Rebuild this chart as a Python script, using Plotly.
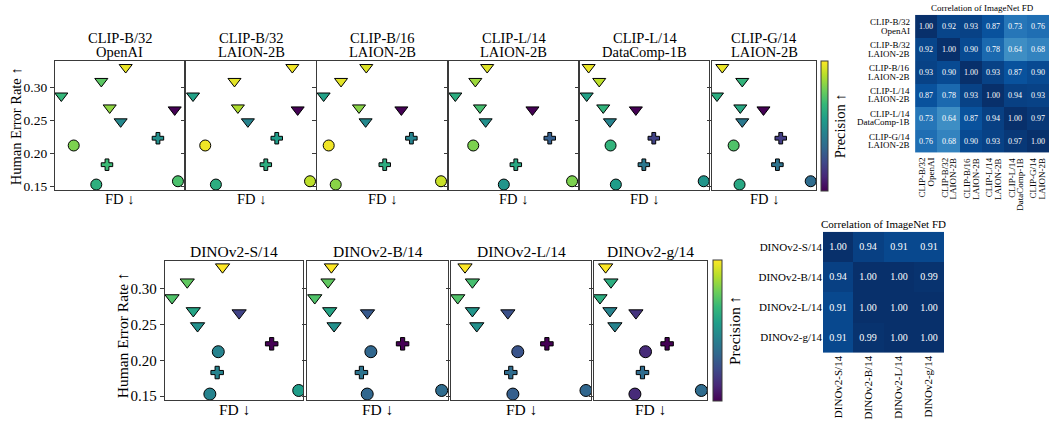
import plotly.graph_objects as go

W, H = 1050, 423
FONT = "Liberation Serif"

# ---------------- data ----------------
TOP_ENCODERS = [("CLIP-B/32", "OpenAI"), ("CLIP-B/32", "LAION-2B"), ("CLIP-B/16", "LAION-2B"),
                ("CLIP-L/14", "LAION-2B"), ("CLIP-L/14", "DataComp-1B"), ("CLIP-G/14", "LAION-2B")]
BOTTOM_ENCODERS = ["DINOv2-S/14", "DINOv2-B/14", "DINOv2-L/14", "DINOv2-g/14"]

# one entry per generative model (same order in every list)
MARKERS = ["triangle-down"] * 6 + ["cross"] * 2 + ["circle"] * 3
HUMAN_ERROR = [0.330, 0.309, 0.287, 0.269, 0.248, 0.266, 0.223, 0.183, 0.212, 0.153, 0.158]

# FD (relative units, per encoder; axis ticks hidden in the original)
FD_CLIP_B32_OPENAI = [54.8, 35.9, 4.9, 42.4, 50.9, 92.8, 79.8, 40.3, 14.5, 32.0, 95.3]
FD_CLIP_B32_LAION = [81.8, 37.3, 5.4, 39.9, 47.6, 85.9, 69.8, 61.4, 14.8, 23.0, 95.4]
FD_CLIP_B16_LAION = [37.9, 18.5, 5.1, 32.3, 37.4, 64.9, 72.6, 52.1, 9.0, 14.4, 95.4]
FD_CLIP_L14_LAION = [29.6, 20.4, 4.9, 24.0, 28.4, 64.7, 78.1, 51.8, 18.8, 42.5, 95.4]
FD_CLIP_L14_DATACOMP = [6.7, 14.9, 5.2, 18.0, 23.2, 43.3, 57.2, 49.5, 23.7, 27.8, 95.9]
FD_CLIP_G14_LAION = [9.9, 29.1, 4.8, 27.2, 29.1, 49.5, 66.1, 62.9, 20.8, 26.5, 94.9]
FD_DINO_S = [41.7, 16.1, 5.1, 20.5, 23.6, 53.7, 77.3, 37.8, 38.6, 32.5, 96.9]
FD_DINO_B = [17.3, 14.9, 5.5, 16.1, 19.2, 42.9, 67.8, 38.6, 45.3, 42.7, 95.5]
FD_DINO_L = [10.0, 15.3, 4.8, 15.3, 18.4, 40.6, 68.5, 42.7, 47.7, 44.2, 96.4]
FD_DINO_G = [10.3, 15.0, 5.3, 14.1, 18.5, 37.1, 64.7, 42.9, 45.6, 36.2, 95.0]

# precision (normalised per encoder, colour scale)
PREC_CLIP_B32_OPENAI = [0.97, 0.74, 0.66, 0.83, 0.47, 0.00, 0.50, 0.68, 0.80, 0.63, 0.71]
PREC_CLIP_B32_LAION = [0.98, 0.96, 0.57, 0.88, 0.45, 0.00, 0.55, 0.62, 0.98, 0.62, 0.90]
PREC_CLIP_B16_LAION = [0.95, 0.96, 0.57, 0.82, 0.47, 0.00, 0.45, 0.62, 0.98, 0.82, 0.92]
PREC_CLIP_L14_LAION = [0.95, 0.85, 0.62, 0.70, 0.50, 0.00, 0.30, 0.60, 0.80, 0.52, 0.80]
PREC_CLIP_L14_DATACOMP = [0.97, 0.90, 0.57, 0.65, 0.45, 0.00, 0.20, 0.40, 0.65, 0.55, 0.52]
PREC_CLIP_G14_LAION = [0.97, 0.65, 0.62, 0.60, 0.40, 0.00, 0.18, 0.38, 0.72, 0.60, 0.35]
PREC_DINO_S = [1.00, 0.75, 0.72, 0.58, 0.50, 0.20, 0.00, 0.45, 0.45, 0.45, 0.55]
PREC_DINO_B = [1.00, 0.75, 0.72, 0.58, 0.50, 0.28, 0.00, 0.38, 0.33, 0.33, 0.35]
PREC_DINO_L = [1.00, 0.70, 0.72, 0.52, 0.50, 0.25, 0.00, 0.35, 0.26, 0.30, 0.33]
PREC_DINO_G = [1.00, 0.62, 0.62, 0.45, 0.45, 0.15, 0.00, 0.35, 0.12, 0.12, 0.35]

TOP_FD = [FD_CLIP_B32_OPENAI, FD_CLIP_B32_LAION, FD_CLIP_B16_LAION, FD_CLIP_L14_LAION, FD_CLIP_L14_DATACOMP, FD_CLIP_G14_LAION]
TOP_PREC = [PREC_CLIP_B32_OPENAI, PREC_CLIP_B32_LAION, PREC_CLIP_B16_LAION, PREC_CLIP_L14_LAION, PREC_CLIP_L14_DATACOMP, PREC_CLIP_G14_LAION]
BOT_FD = [FD_DINO_S, FD_DINO_B, FD_DINO_L, FD_DINO_G]
BOT_PREC = [PREC_DINO_S, PREC_DINO_B, PREC_DINO_L, PREC_DINO_G]

Y_TICKS = [0.15, 0.20, 0.25, 0.30]
Y_TICK_LABELS = ["0.15", "0.20", "0.25", "0.30"]

CLIP_LABEL_LINES = [("CLIP-B/32", "OpenAI"), ("CLIP-B/32", "LAION-2B"), ("CLIP-B/16", "LAION-2B"),
                    ("CLIP-L/14", "LAION-2B"), ("CLIP-L/14", "DataComp-1B"), ("CLIP-G/14", "LAION-2B")]
CLIP_CORR = [[1.00, 0.92, 0.93, 0.87, 0.73, 0.76],
             [0.92, 1.00, 0.90, 0.78, 0.64, 0.68],
             [0.93, 0.90, 1.00, 0.93, 0.87, 0.90],
             [0.87, 0.78, 0.93, 1.00, 0.94, 0.93],
             [0.73, 0.64, 0.87, 0.94, 1.00, 0.97],
             [0.76, 0.68, 0.90, 0.93, 0.97, 1.00]]
DINO_LABELS = ["DINOv2-S/14", "DINOv2-B/14", "DINOv2-L/14", "DINOv2-g/14"]
DINO_CORR = [[1.00, 0.94, 0.91, 0.91],
             [0.94, 1.00, 1.00, 0.99],
             [0.91, 1.00, 1.00, 1.00],
             [0.91, 0.99, 1.00, 1.00]]

# ---------------- layout helpers ----------------
def px(x):
    return x / W


def py(y):
    return 1 - y / H


TOP_X = [(55, 184), (186, 316), (317, 447), (449, 578), (580, 709), (712, 816)]
TOP_Y = (62, 192)
BOT_X = [(165, 303), (307, 448), (451, 591), (594, 707)]
BOT_Y = (263, 404)

fig = go.Figure()
layout = dict(width=W, height=H, margin=dict(l=0, r=0, t=0, b=0),
              paper_bgcolor="white", plot_bgcolor="white",
              font=dict(family=FONT, color="black"), showlegend=False)
annotations = []
SPINE = "#3a3a3a"
idx = 0


def add_panel(fd, prec, xr, yr, caxis, msize, tickfont, show_labels):
    global idx
    idx += 1
    xa = "x" if idx == 1 else f"x{idx}"
    ya = "y" if idx == 1 else f"y{idx}"
    for m in ["triangle-down", "cross", "circle"]:
        sel = [i for i, mk in enumerate(MARKERS) if mk == m]
        size = msize * (0.87 if m == "cross" else (1.03 if m == "triangle-down" else 1.0))
        fig.add_trace(go.Scatter(
            x=[fd[i] for i in sel], y=[HUMAN_ERROR[i] for i in sel], mode="markers",
            xaxis=xa, yaxis=ya,
            marker=dict(symbol=m, size=size, color=[prec[i] for i in sel], coloraxis=caxis,
                        line=dict(color="black", width=1)),
            hoverinfo="skip"))
    key = "" if idx == 1 else str(idx)
    layout["xaxis" + key] = dict(domain=[px(xr[0]), px(xr[1])], range=[0, 100], anchor=ya,
                                 showticklabels=False, ticks="", showgrid=False, zeroline=False,
                                 showline=True, mirror=True, linecolor=SPINE, linewidth=1.3)
    layout["yaxis" + key] = dict(domain=[py(yr[1]), py(yr[0])], range=[0.1445, 0.339], anchor=xa,
                                 tickvals=Y_TICKS, ticktext=Y_TICK_LABELS, showticklabels=show_labels,
                                 ticks="outside", ticklen=4, tickcolor=SPINE, tickwidth=1,
                                 tickfont=dict(size=tickfont, family=FONT),
                                 showgrid=False, zeroline=False,
                                 showline=True, mirror=True, linecolor=SPINE, linewidth=1.3)


for k, (fd, prec) in enumerate(zip(TOP_FD, TOP_PREC)):
    add_panel(fd, prec, TOP_X[k], TOP_Y, "coloraxis", 11, 13.5, k == 0)
    cx = (TOP_X[k][0] + TOP_X[k][1]) / 2
    annotations.append(dict(x=px(cx), y=py(38), xref="paper", yref="paper", text=TOP_ENCODERS[k][0],
                            showarrow=False, xanchor="center", yanchor="middle", font=dict(size=14.5)))
    annotations.append(dict(x=px(cx), y=py(53), xref="paper", yref="paper", text=TOP_ENCODERS[k][1],
                            showarrow=False, xanchor="center", yanchor="middle", font=dict(size=14.5)))
    annotations.append(dict(x=px(cx), y=py(201), xref="paper", yref="paper", text="FD ↓",
                            showarrow=False, xanchor="center", yanchor="middle", font=dict(size=14.5)))

for k, (fd, prec) in enumerate(zip(BOT_FD, BOT_PREC)):
    add_panel(fd, prec, BOT_X[k], BOT_Y, "coloraxis2", 12, 15, k == 0)
    cx = (BOT_X[k][0] + BOT_X[k][1]) / 2
    annotations.append(dict(x=px(cx), y=py(254), xref="paper", yref="paper", text=BOTTOM_ENCODERS[k],
                            showarrow=False, xanchor="center", yanchor="middle", font=dict(size=15.5)))
    annotations.append(dict(x=px(cx), y=py(413), xref="paper", yref="paper", text="FD ↓",
                            showarrow=False, xanchor="center", yanchor="middle", font=dict(size=15.5)))

annotations.append(dict(x=px(15.5), y=py(128), xref="paper", yref="paper", text="Human Error Rate ↑",
                        textangle=-90, showarrow=False, xanchor="center", yanchor="middle", font=dict(size=14.5)))
annotations.append(dict(x=px(122.5), y=py(339), xref="paper", yref="paper", text="Human Error Rate ↑",
                        textangle=-90, showarrow=False, xanchor="center", yanchor="middle", font=dict(size=15.5)))

# colour axes
layout["coloraxis"] = dict(colorscale="Viridis", cmin=0, cmax=1,
                           colorbar=dict(x=px(821), xanchor="left", xpad=0, ypad=0, thickness=7,
                                         lenmode="pixels", len=130, y=py(127), yanchor="middle",
                                         outlinewidth=1, outlinecolor=SPINE, showticklabels=False, ticks="",
                                         title=dict(text="Precision ↑", side="right", font=dict(size=14.5))))
layout["coloraxis2"] = dict(colorscale="Viridis", cmin=0, cmax=1,
                            colorbar=dict(x=px(713), xanchor="left", xpad=0, ypad=0, thickness=9,
                                          lenmode="pixels", len=141, y=py(333.5), yanchor="middle",
                                          outlinewidth=1, outlinecolor=SPINE, showticklabels=False, ticks="",
                                          title=dict(text="Precision ↑", side="right", font=dict(size=15.5))))


def add_heatmap(labels, corr, xr, yr, tick_size, val_size, title, title_y, title_size, two_line=None):
    global idx
    idx += 1
    xa, ya = f"x{idx}", f"y{idx}"
    fig.add_trace(go.Heatmap(z=corr, x=labels, y=labels, xaxis=xa, yaxis=ya,
                             colorscale="Blues", zmin=0, zmax=1, showscale=False,
                             texttemplate="%{z:.2f}", textfont=dict(color="white", size=val_size, family=FONT),
                             hoverinfo="skip"))
    show = two_line is None
    layout[f"xaxis{idx}"] = dict(domain=[px(xr[0]), px(xr[1])], anchor=ya, tickangle=-90,
                                 showticklabels=show,
                                 tickfont=dict(size=tick_size, family=FONT), ticks="", showgrid=False,
                                 zeroline=False, showline=False)
    layout[f"yaxis{idx}"] = dict(domain=[py(yr[1]), py(yr[0])], anchor=xa, autorange="reversed",
                                 showticklabels=show,
                                 tickfont=dict(size=tick_size, family=FONT), ticks="", showgrid=False,
                                 zeroline=False, showline=False)
    if two_line is not None:
        for i, (l1, l2) in enumerate(two_line):
            for line, sh in ((l1, 4.3), (l2, -4.3)):
                # y tick labels (right aligned, left of the matrix)
                annotations.append(dict(x=px(xr[0] - 3), y=labels[i], xref="paper", yref=ya,
                                        text=line, showarrow=False, xanchor="right", yanchor="middle",
                                        yshift=sh, font=dict(size=tick_size)))
                # x tick labels (rotated, below the matrix)
                annotations.append(dict(x=labels[i], y=py(yr[1] + 3), xref=xa, yref="paper",
                                        text=line, textangle=-90, showarrow=False, xanchor="center",
                                        yanchor="top", xshift=-sh, font=dict(size=tick_size)))
    annotations.append(dict(x=px((xr[0] + xr[1]) / 2), y=py(title_y), xref="paper", yref="paper",
                            text=title, showarrow=False, xanchor="center", yanchor="middle",
                            font=dict(size=title_size)))


CLIP_LABELS = [a + " " + b for a, b in CLIP_LABEL_LINES]
add_heatmap(CLIP_LABELS, CLIP_CORR, (915, 1049), (15, 154), 9, 8, "Correlation of ImageNet FD", 8.5, 9,
            two_line=CLIP_LABEL_LINES)
add_heatmap(DINO_LABELS, DINO_CORR, (823, 944), (234, 356), 11, 10, "Correlation of ImageNet FD", 226, 11)

layout["annotations"] = annotations
fig.update_layout(**layout)
fig.write_html("out.html")
